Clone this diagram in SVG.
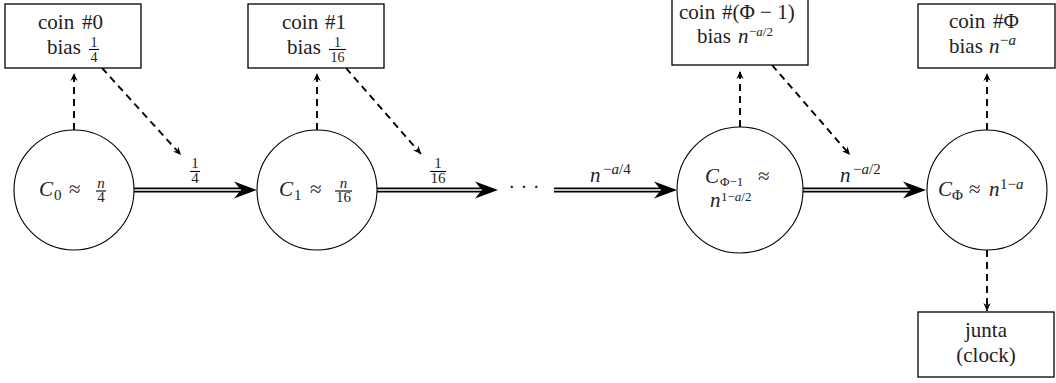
<svg xmlns="http://www.w3.org/2000/svg" width="1056" height="383" viewBox="0 0 1056 383" font-family="'Liberation Serif', 'Times New Roman', 'DejaVu Serif', serif">
<style>
text{font-family:'Liberation Serif','Times New Roman','DejaVu Serif',serif;font-size:21px;fill:#222}
.s{font-size:15px}
.f{font-size:14px}
.t{font-size:13px}
.m{text-anchor:middle}
.i{font-style:italic}
.box{fill:#fff;stroke:#000;stroke-width:1.3}
.cir{fill:#fff;stroke:#000;stroke-width:1.1}
.bar{stroke:#000;stroke-width:1.1}
.dash{fill:none;stroke:#000;stroke-width:1.9;stroke-dasharray:7 5}
.dbo{stroke:#000;stroke-width:5}
.dbi{stroke:#fff;stroke-width:1.6}
</style>
<defs>
<marker id="dh" viewBox="-9 -5 10 10" refX="0" refY="0" markerWidth="10" markerHeight="10" orient="auto" markerUnits="userSpaceOnUse">
<path d="M0,0 L-8,-3.6 L-5.5,0 L-8,3.6 Z" fill="#000"/>
</marker>
<path id="bh" d="M0,0 L-23,-8.5 L-16,0 L-23,8.5 Z" fill="#000"/>
</defs>

<g id="connectors">
<line class="dash" x1="74" y1="130" x2="74" y2="73" marker-end="url(#dh)"/>
<line class="dash" x1="102" y1="68" x2="181" y2="155" marker-end="url(#dh)"/>
<line class="dash" x1="317" y1="130" x2="317" y2="73" marker-end="url(#dh)"/>
<line class="dash" x1="346" y1="68" x2="421" y2="154" marker-end="url(#dh)"/>
<line class="dash" x1="740" y1="127" x2="740" y2="71" marker-end="url(#dh)"/>
<line class="dash" x1="772" y1="65" x2="850" y2="155" marker-end="url(#dh)"/>
<line class="dash" x1="987" y1="130" x2="987" y2="73" marker-end="url(#dh)"/>
<line class="dash" x1="987" y1="250" x2="987" y2="311" marker-end="url(#dh)"/>

<g id="e0">
<line class="dbo" x1="134" y1="190" x2="240" y2="190"/><line class="dbi" x1="134" y1="190" x2="241" y2="190"/>
<use href="#bh" x="257" y="190"/>
<text class="s m" x="195" y="168">1</text><line class="bar" x1="190" y1="171.5" x2="200" y2="171.5"/><text class="s m" x="195" y="183">4</text>
</g>
<g id="e1">
<line class="dbo" x1="377" y1="190" x2="481" y2="190"/><line class="dbi" x1="377" y1="190" x2="482" y2="190"/>
<use href="#bh" x="498" y="190"/>
<text class="s m" x="438" y="168">1</text><line class="bar" x1="430" y1="171.5" x2="446" y2="171.5"/><text class="s m" x="438" y="183">16</text>
</g>
<g id="e2">
<line class="dbo" x1="554" y1="190" x2="660" y2="190"/><line class="dbi" x1="554" y1="190" x2="661" y2="190"/>
<use href="#bh" x="677" y="190"/>
<text><tspan class="i" x="590" y="182">n</tspan><tspan class="s" x="603" y="174">−<tspan class="i">a</tspan>/4</tspan></text>
</g>
<g id="e3">
<line class="dbo" x1="803" y1="190" x2="909" y2="190"/><line class="dbi" x1="803" y1="190" x2="910" y2="190"/>
<use href="#bh" x="926" y="190"/>
<text><tspan class="i" x="840" y="182">n</tspan><tspan class="s" x="853" y="174">−<tspan class="i">a</tspan>/2</tspan></text>
</g>
<text id="dots" class="m" x="524" y="194">· · ·</text>
</g>

<g id="coin0">
<rect class="box" x="5" y="4" width="136" height="64"/>
<text x="38" y="29">coin<tspan x="82">#0</tspan></text>
<text x="47" y="54">bias</text>
<text class="f m" x="94" y="47">1</text><line class="bar" x1="89" y1="49.5" x2="99" y2="49.5"/><text class="f m" x="94" y="61.5">4</text>
</g>
<g id="coin1">
<rect class="box" x="248" y="4" width="136" height="64"/>
<text x="282" y="29">coin<tspan x="325">#1</tspan></text>
<text x="287" y="54">bias</text>
<text class="f m" x="337.5" y="47">1</text><line class="bar" x1="329" y1="49.5" x2="346" y2="49.5"/><text class="f m" x="337.5" y="61.5">16</text>
</g>
<g id="coinPhi1">
<rect class="box" x="672" y="-1" width="136" height="66"/>
<text x="679" y="19">coin<tspan x="722">#(Φ − 1)</tspan></text>
<text x="697" y="43">bias<tspan class="i" x="738">n</tspan><tspan class="t" x="749" y="36">−<tspan class="i">a</tspan>/2</tspan></text>
</g>
<g id="coinPhi">
<rect class="box" x="918" y="4" width="137" height="64"/>
<text x="949" y="28">coin<tspan x="993">#Φ</tspan></text>
<text x="949" y="53">bias<tspan class="i" x="989">n</tspan><tspan class="s" x="1000" y="45">−<tspan class="i">a</tspan></tspan></text>
</g>
<g id="junta">
<rect class="box" x="918" y="312" width="136" height="65"/>
<text class="m" x="986" y="337">junta</text>
<text class="m" x="986" y="362">(clock)</text>
</g>

<g id="c0">
<circle class="cir" cx="74" cy="190" r="60"/>
<text><tspan class="i" x="39" y="196">C</tspan><tspan class="s" x="54" y="200">0</tspan><tspan x="69" y="196">≈</tspan></text>
<text class="s m i" x="101" y="188">n</text><line class="bar" x1="96" y1="191" x2="106" y2="191"/><text class="s m" x="101" y="202">4</text>
</g>
<g id="c1">
<circle class="cir" cx="317" cy="190" r="60"/>
<text><tspan class="i" x="279" y="196">C</tspan><tspan class="s" x="294" y="200">1</tspan><tspan x="310" y="196">≈</tspan></text>
<text class="s m i" x="343.5" y="188">n</text><line class="bar" x1="335" y1="191" x2="352" y2="191"/><text class="s m" x="343.5" y="202">16</text>
</g>
<g id="cPhi1">
<circle class="cir" cx="740" cy="190" r="63"/>
<text><tspan class="i" x="705" y="183">C</tspan><tspan class="t" x="720" y="186">Φ−1</tspan><tspan x="758" y="183">≈</tspan></text>
<text><tspan class="i" x="710" y="207">n</tspan><tspan class="t" x="721" y="201">1−<tspan class="i">a</tspan>/2</tspan></text>
</g>
<g id="cPhi">
<circle class="cir" cx="987" cy="190" r="60"/>
<text><tspan class="i" x="938" y="196">C</tspan><tspan class="s" x="952" y="200">Φ</tspan><tspan x="969" y="196">≈</tspan><tspan class="i" x="989" y="196">n</tspan><tspan class="s" x="1000" y="189">1−<tspan class="i">a</tspan></tspan></text>
</g>
</svg>
